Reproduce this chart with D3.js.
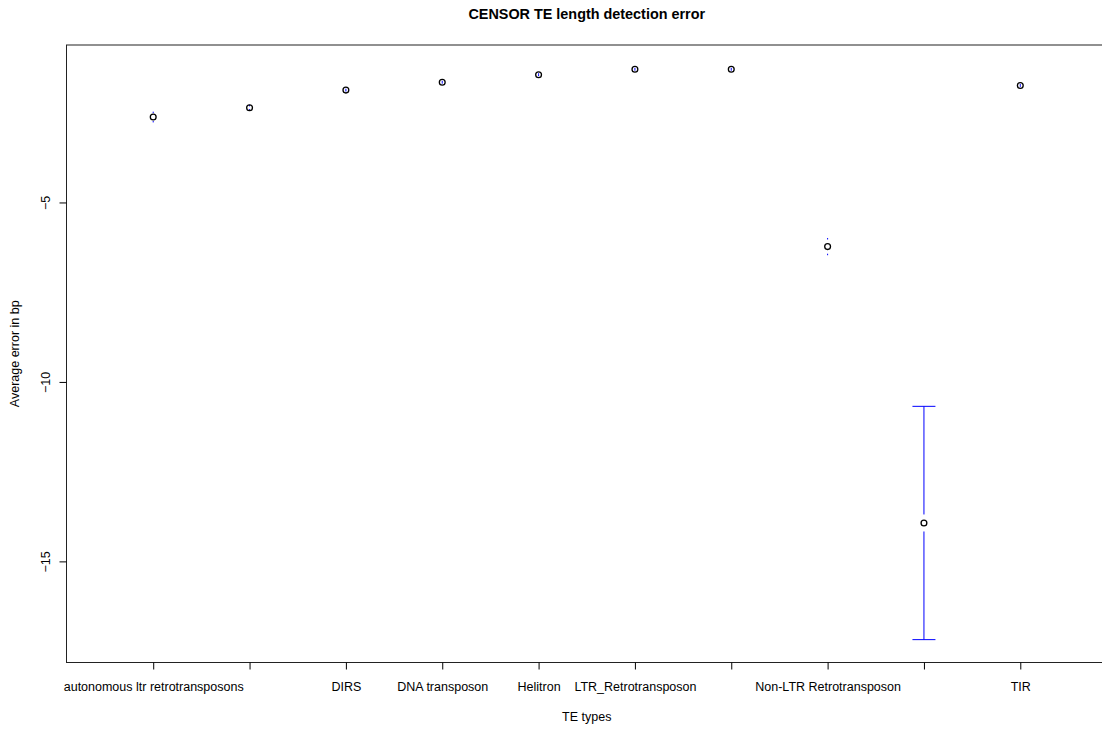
<!DOCTYPE html>
<html>
<head>
<meta charset="utf-8">
<script src="https://cdn.jsdelivr.net/npm/d3@7"></script>
<style>
  html, body { margin: 0; padding: 0; background: #fff; }
  svg { display: block; font-family: "Liberation Sans", Arial, Helvetica, sans-serif; }
</style>
</head>
<body>
<svg id="chart" width="1102" height="729"></svg>
<script>
// TE categories in plotting order; blank entries are ticks whose labels are dropped for overlap
const categories = [
  "autonomous ltr retrotransposons", "", "DIRS", "DNA transposon", "Helitron",
  "LTR_Retrotransposon", "", "Non-LTR Retrotransposon", "", "TIR"
];
// mean length error (bp) and its confidence bounds per category
const meanError = [-2.62, -2.36, -1.87, -1.65, -1.44, -1.29, -1.29, -6.23, -13.93, -1.74];
const lowerCI   = [-2.77, -2.44, -1.91, -1.69, -1.48, -1.33, -1.33, -6.47, -17.18, -1.78];
const upperCI   = [-2.47, -2.28, -1.83, -1.61, -1.40, -1.25, -1.25, -5.99, -10.68, -1.70];
const yTicks = [-15, -10, -5];

const svg = d3.select("#chart");
const plot = { left: 66.5, right: 1107, top: 45, bottom: 662.5 };
const labelSize = 12.5;

// x runs over category index with half a slot plus 4% padding each side
const n = categories.length;
const xPad = n * 0.04;
const x = d3.scaleLinear()
  .domain([0.5 - xPad, n + 0.5 + xPad])
  .range([plot.left, plot.right]);

// y spans the error-bar extent with 4% padding
const yMin = d3.min(lowerCI), yMax = d3.max(upperCI);
const yPad = (yMax - yMin) * 0.04;
const y = d3.scaleLinear()
  .domain([yMin - yPad, yMax + yPad])
  .range([plot.bottom, plot.top]);

const ink = "#000";

// plot box
svg.append("rect")
  .attr("x", plot.left).attr("y", plot.top)
  .attr("width", plot.right - plot.left).attr("height", plot.bottom - plot.top)
  .attr("fill", "none").attr("stroke", "#222").attr("stroke-width", 1);

// y axis
const yAxis = d3.axisLeft(y).tickValues(yTicks).tickSize(7).tickPadding(0)
  .tickFormat(d => d3.format("")(d).replace("-", "\u2212"));
const gy = svg.append("g").attr("transform", `translate(${plot.left},0)`).call(yAxis);
gy.select(".domain").remove();
gy.selectAll(".tick line").attr("stroke", ink);
gy.selectAll(".tick text")
  .attr("x", 0).attr("dy", null)
  .attr("transform", "translate(-21,0) rotate(-90)")
  .attr("text-anchor", "middle")
  .attr("dominant-baseline", "central")
  .attr("font-size", labelSize).attr("fill", ink);

// x axis
const xAxis = d3.axisBottom(x)
  .tickValues(d3.range(1, n + 1))
  .tickSize(7).tickPadding(0)
  .tickFormat(i => categories[i - 1]);
const gx = svg.append("g").attr("transform", `translate(0,${plot.bottom})`).call(xAxis);
gx.select(".domain").remove();
gx.selectAll(".tick line").attr("stroke", ink);
gx.selectAll(".tick text")
  .attr("y", 28).attr("dy", null)
  .attr("font-size", labelSize).attr("fill", ink);

// error bars: stems leave a gap around the point; caps only on long stems
const gap = 8.5, capHalf = 11.5;
const bars = svg.append("g").attr("stroke", "#0000ff").attr("stroke-width", 1);
meanError.forEach((m, i) => {
  const cx = x(i + 1), cy = y(m);
  [[lowerCI[i], 1], [upperCI[i], -1]].forEach(([b, dir]) => {
    const yb = y(b);
    const dist = Math.abs(yb - cy);
    const start = dist > gap + 1.5 ? cy + dir * gap : yb - dir * 1.5;
    bars.append("line")
      .attr("x1", cx).attr("x2", cx)
      .attr("y1", start).attr("y2", yb);
    if (dist > gap + 3) {
      bars.append("line")
        .attr("x1", cx - capHalf).attr("x2", cx + capHalf)
        .attr("y1", yb).attr("y2", yb);
    }
  });
});

// mean points
svg.append("g").selectAll("circle")
  .data(meanError)
  .join("circle")
  .attr("cx", (d, i) => x(i + 1))
  .attr("cy", d => y(d))
  .attr("r", 2.9)
  .attr("fill", "none")
  .attr("stroke", ink)
  .attr("stroke-width", 1.3);

// titles
const midX = (plot.left + plot.right) / 2;
svg.append("text")
  .attr("x", midX).attr("y", 18.5)
  .attr("text-anchor", "middle")
  .attr("font-size", 14.4).attr("font-weight", "bold")
  .text("CENSOR TE length detection error");

svg.append("text")
  .attr("x", midX).attr("y", 721)
  .attr("text-anchor", "middle")
  .attr("font-size", labelSize)
  .text("TE types");

svg.append("text")
  .attr("transform", `translate(15,${(plot.top + plot.bottom) / 2}) rotate(-90)`)
  .attr("text-anchor", "middle")
  .attr("dominant-baseline", "central")
  .attr("font-size", labelSize)
  .text("Average error in bp");
</script>
</body>
</html>
